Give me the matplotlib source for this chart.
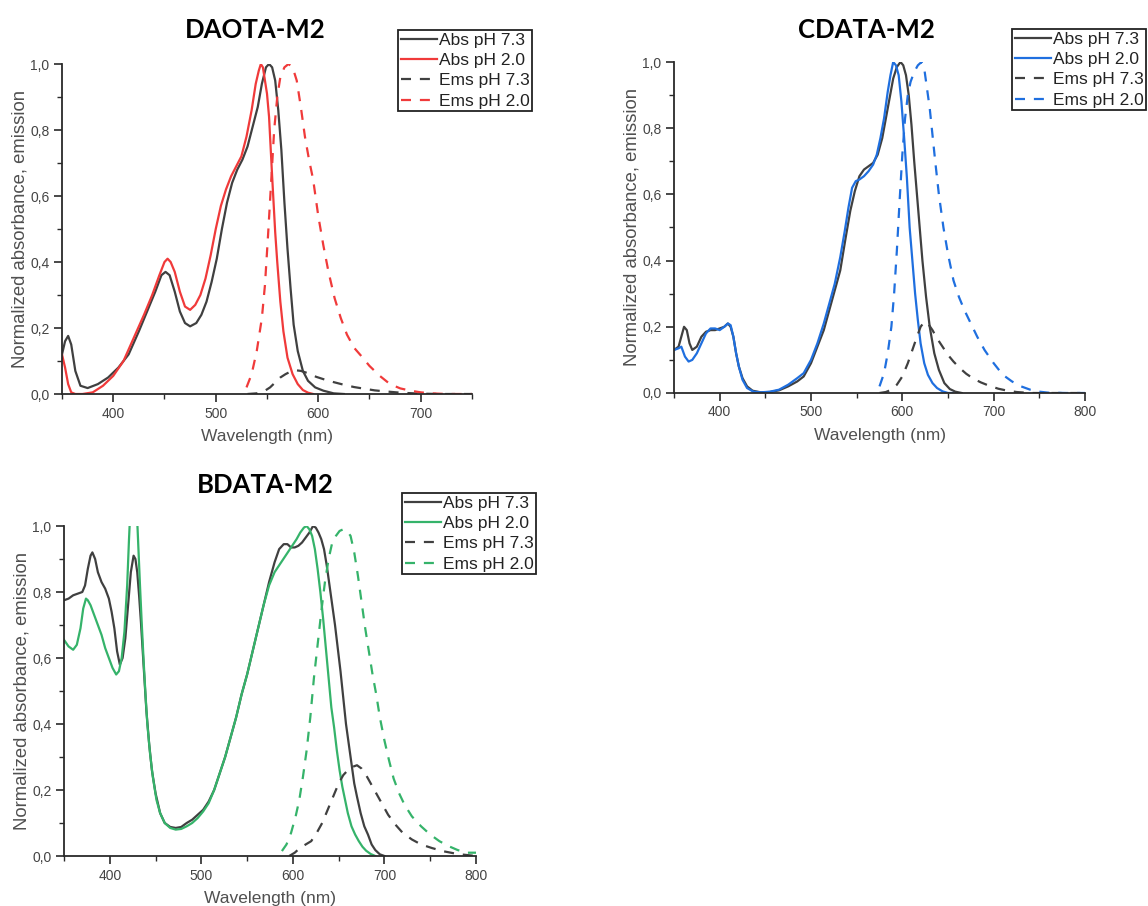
import matplotlib
matplotlib.use("Agg")
import matplotlib.pyplot as plt
from matplotlib.ticker import MultipleLocator, FuncFormatter

plt.rcParams["font.family"] = ["Liberation Sans", "DejaVu Sans"]

# ---------------- DAOTA-M2 ----------------
daota_abs73_x = [350, 353, 356, 359, 363, 368, 375, 385, 395, 405, 415, 425, 433, 441, 447, 451, 455, 460, 465,
                 470, 475, 481, 486, 491, 496, 501, 506, 511, 516, 521, 526, 531, 536, 541, 545, 549, 552, 555,
                 558, 561, 564, 567, 570, 573, 576, 580, 585, 590, 597, 605, 615, 625]
daota_abs73_y = [0.12, 0.16, 0.176, 0.15, 0.07, 0.025, 0.018, 0.03, 0.05, 0.08, 0.12, 0.19, 0.25, 0.31, 0.36,
                 0.37, 0.36, 0.31, 0.25, 0.215, 0.205, 0.215, 0.24, 0.28, 0.34, 0.41, 0.50, 0.58, 0.64, 0.68,
                 0.71, 0.75, 0.81, 0.87, 0.94, 0.99, 1.0, 0.99, 0.95, 0.86, 0.74, 0.58, 0.44, 0.32, 0.21, 0.13,
                 0.07, 0.04, 0.02, 0.01, 0.002, 0.0]

daota_abs20_x = [350, 353, 356, 359, 363, 370, 380, 390, 400, 410, 420, 430, 438, 445, 450, 453, 456, 460, 465,
                 470, 475, 480, 485, 490, 495, 500, 505, 510, 515, 520, 525, 530, 535, 539, 542, 544, 546, 548,
                 550, 552, 555, 558, 560, 563, 566, 570, 575, 580, 585, 590, 595]
daota_abs20_y = [0.12, 0.08, 0.03, 0.005, 0.0, 0.0, 0.005, 0.025, 0.055, 0.10, 0.17, 0.24, 0.30, 0.36, 0.40,
                 0.41, 0.40, 0.37, 0.31, 0.265, 0.255, 0.27, 0.30, 0.35, 0.42, 0.50, 0.57, 0.62, 0.66, 0.69,
                 0.72, 0.78, 0.86, 0.94, 0.98, 1.0, 0.99, 0.95, 0.91, 0.84, 0.66, 0.49, 0.40, 0.28, 0.19, 0.11,
                 0.06, 0.03, 0.012, 0.004, 0.0]

daota_ems73_x = [531, 540, 548, 553, 558, 563, 568, 573, 578, 583, 590, 598, 606, 615, 625, 635, 645, 655, 665,
                 680, 700, 720, 750]
daota_ems73_y = [0.0, 0.002, 0.01, 0.02, 0.035, 0.05, 0.06, 0.068, 0.072, 0.07, 0.063, 0.052, 0.044, 0.036,
                 0.028, 0.021, 0.016, 0.011, 0.008, 0.004, 0.001, 0.0, 0.0]

daota_ems20_x = [530, 535, 540, 545, 548, 551, 554, 557, 560, 563, 567, 571, 575, 579, 583, 587, 591, 595, 600,
                 605, 610, 616, 622, 628, 635, 642, 650, 660, 670, 680, 690, 700, 710, 725, 750]
daota_ems20_y = [0.02, 0.06, 0.13, 0.23, 0.33, 0.48, 0.64, 0.80, 0.90, 0.96, 0.99, 1.0, 0.99, 0.95, 0.87, 0.78,
                 0.71, 0.65, 0.54, 0.45, 0.37, 0.29, 0.23, 0.18, 0.14, 0.115, 0.085, 0.055, 0.03, 0.017, 0.01,
                 0.005, 0.002, 0.0, 0.0]

# ---------------- CDATA-M2 ----------------
cdata_abs73_x = [350, 355, 358, 361, 364, 367, 370, 375, 380, 385, 390, 395, 400, 405, 409, 412, 415, 418, 421,
                 425, 430, 436, 445, 455, 465, 475, 485, 492, 500, 507, 514, 520, 526, 532, 538, 543, 548, 553,
                 558, 563, 568, 573, 578, 582, 586, 590, 594, 598, 601, 604, 607, 610, 613, 616, 619, 622, 626,
                 630, 635, 640, 646, 652, 658, 665]
cdata_abs73_y = [0.13, 0.14, 0.17, 0.20, 0.19, 0.15, 0.13, 0.14, 0.17, 0.185, 0.19, 0.19, 0.195, 0.20, 0.21,
                 0.20, 0.17, 0.12, 0.08, 0.045, 0.02, 0.007, 0.002, 0.003, 0.008, 0.02, 0.035, 0.05, 0.09, 0.14,
                 0.19, 0.25, 0.31, 0.37, 0.47, 0.55, 0.61, 0.655, 0.675, 0.685, 0.695, 0.72, 0.77, 0.83, 0.89,
                 0.95, 0.985, 1.0, 0.99, 0.96, 0.90, 0.81, 0.70, 0.60, 0.50, 0.40, 0.29, 0.20, 0.12, 0.07, 0.03,
                 0.012, 0.004, 0.0]

cdata_abs20_x = [350, 355, 358, 362, 366, 370, 375, 380, 385, 390, 395, 400, 405, 409, 412, 415, 418, 421, 425,
                 430, 437, 445, 455, 465, 475, 485, 492, 500, 507, 514, 520, 526, 532, 537, 541, 545, 549, 553,
                 558, 563, 568, 572, 576, 580, 584, 587, 590, 593, 596, 599, 602, 605, 608, 611, 614, 617, 620,
                 624, 628, 633, 638, 644, 650, 655]
cdata_abs20_y = [0.13, 0.135, 0.14, 0.11, 0.095, 0.10, 0.12, 0.15, 0.18, 0.195, 0.195, 0.19, 0.20, 0.21, 0.205,
                 0.17, 0.12, 0.08, 0.04, 0.015, 0.004, 0.002, 0.004, 0.01, 0.025, 0.045, 0.06, 0.10, 0.15, 0.21,
                 0.27, 0.33, 0.41, 0.49, 0.56, 0.62, 0.64, 0.645, 0.655, 0.67, 0.69, 0.72, 0.77, 0.83, 0.91, 0.96,
                 1.0, 0.99, 0.96, 0.88, 0.77, 0.65, 0.50, 0.40, 0.30, 0.22, 0.15, 0.09, 0.055, 0.03, 0.015,
                 0.005, 0.0, 0.0]

cdata_ems73_x = [575, 582, 588, 594, 600, 606, 611, 616, 620, 624, 628, 633, 638, 644, 650, 656, 663, 670, 678,
                 686, 695, 705, 715, 725, 740, 760, 800]
cdata_ems73_y = [0.0, 0.003, 0.01, 0.025, 0.05, 0.09, 0.13, 0.17, 0.20, 0.215, 0.21, 0.19, 0.165, 0.14, 0.115,
                 0.095, 0.075, 0.058, 0.043, 0.032, 0.022, 0.013, 0.007, 0.003, 0.0, 0.0, 0.0]

cdata_ems20_x = [575, 580, 584, 588, 591, 594, 597, 600, 603, 606, 609, 613, 617, 621, 624, 627, 630, 633, 636,
                 640, 645, 650, 656, 662, 668, 675, 682, 690, 700, 710, 720, 730, 740, 750, 760, 780, 800]
cdata_ems20_y = [0.02, 0.06, 0.12, 0.20, 0.30, 0.43, 0.58, 0.72, 0.83, 0.90, 0.94, 0.97, 0.99, 1.0, 0.98, 0.92,
                 0.86, 0.78, 0.70, 0.60, 0.50, 0.42, 0.34, 0.29, 0.25, 0.21, 0.17, 0.13, 0.09, 0.055, 0.035,
                 0.02, 0.01, 0.004, 0.001, 0.0, 0.0]

# ---------------- BDATA-M2 ----------------
bdata_abs73_x = [350, 355, 360, 365, 370, 373, 376, 379, 381, 384, 387, 391, 395, 399, 402, 405, 408, 411, 414,
                 417, 420, 423, 426, 428, 430, 432, 434, 436, 438, 440, 443, 446, 450, 455, 460, 466, 472, 478,
                 484, 490, 496, 502, 508, 514, 520, 526, 532, 538, 544, 550, 556, 562, 568, 574, 580, 585, 590,
                 594, 598, 602, 606, 610, 614, 618, 622, 625, 628, 631, 634, 637, 640, 643, 646, 649, 652, 655,
                 658, 661, 664, 667, 670, 674, 678, 682, 686, 690, 695, 700]
bdata_abs73_y = [0.775, 0.78, 0.79, 0.795, 0.80, 0.82, 0.87, 0.91, 0.92, 0.90, 0.86, 0.83, 0.81, 0.78, 0.74,
                 0.69, 0.62, 0.58, 0.60, 0.66, 0.76, 0.86, 0.91, 0.90, 0.86, 0.79, 0.71, 0.62, 0.53, 0.44, 0.34,
                 0.26, 0.19, 0.13, 0.10, 0.088, 0.085, 0.088, 0.10, 0.11, 0.125, 0.14, 0.165, 0.20, 0.25, 0.30,
                 0.36, 0.42, 0.49, 0.55, 0.62, 0.69, 0.76, 0.83, 0.89, 0.93, 0.945, 0.945, 0.935, 0.935, 0.94,
                 0.95, 0.965, 0.98, 1.0, 0.995, 0.98, 0.96, 0.93, 0.88, 0.82, 0.76, 0.70, 0.63, 0.56, 0.48, 0.40,
                 0.34, 0.28, 0.22, 0.18, 0.13, 0.09, 0.065, 0.035, 0.018, 0.005, 0.0]

bdata_abs20_x = [350, 355, 360, 364, 368, 371, 374, 376, 379, 383, 387, 391, 395, 399, 403, 407, 410, 413, 416,
                 419, 421, 423, 425, 427, 429, 431, 433, 435, 437, 439, 441, 444, 447, 451, 455, 460, 466, 472,
                 478, 484, 490, 496, 502, 508, 514, 520, 526, 532, 538, 544, 550, 556, 562, 568, 574, 580, 586,
                 592, 598, 604, 608, 612, 615, 618, 621, 624, 627, 630, 633, 636, 639, 642, 645, 648, 651, 654,
                 657, 660, 664, 668, 672, 676, 680, 685, 690]
bdata_abs20_y = [0.655, 0.635, 0.625, 0.64, 0.69, 0.75, 0.78, 0.775, 0.76, 0.73, 0.70, 0.67, 0.63, 0.60, 0.57,
                 0.55, 0.56, 0.60, 0.68, 0.82, 0.96, 1.08, 1.15, 1.15, 1.08, 0.95, 0.82, 0.70, 0.59, 0.49, 0.40,
                 0.31, 0.24, 0.17, 0.13, 0.10, 0.085, 0.08, 0.082, 0.09, 0.10, 0.115, 0.135, 0.16, 0.20, 0.25,
                 0.30, 0.36, 0.42, 0.49, 0.55, 0.62, 0.69, 0.76, 0.82, 0.86, 0.885, 0.91, 0.935, 0.96, 0.98,
                 0.995, 1.0, 0.99, 0.97, 0.93, 0.87, 0.80, 0.72, 0.63, 0.54, 0.45, 0.39, 0.32, 0.26, 0.21, 0.17,
                 0.13, 0.09, 0.065, 0.045, 0.028, 0.016, 0.006, 0.0]

bdata_ems73_x = [596, 602, 608, 614, 620, 626, 632, 638, 644, 650, 655, 660, 665, 670, 675, 680, 686, 692, 698,
                 704, 712, 720, 730, 740, 752, 765, 780, 800]
bdata_ems73_y = [0.0, 0.01, 0.025, 0.035, 0.045, 0.07, 0.10, 0.14, 0.18, 0.22, 0.245, 0.26, 0.27, 0.275, 0.265,
                 0.245, 0.215, 0.185, 0.155, 0.125, 0.095, 0.07, 0.05, 0.035, 0.024, 0.014, 0.006, 0.0]

bdata_ems20_x = [588, 593, 598, 603, 607, 611, 615, 619, 623, 627, 631, 635, 639, 643, 647, 651, 655, 659, 663,
                 667, 671, 675, 679, 683, 687, 691, 695, 700, 705, 710, 716, 722, 730, 740, 750, 760, 770, 780,
                 790, 800]
bdata_ems20_y = [0.015, 0.035, 0.07, 0.12, 0.17, 0.24, 0.32, 0.42, 0.54, 0.64, 0.74, 0.83, 0.90, 0.95, 0.97,
                 0.985, 0.99, 0.985, 0.97, 0.92, 0.85, 0.77, 0.69, 0.62, 0.55, 0.49, 0.42, 0.35, 0.29, 0.235,
                 0.19, 0.155, 0.12, 0.09, 0.065, 0.045, 0.03, 0.018, 0.01, 0.01]

legend_labels = ["Abs pH 7.3", "Abs pH 2.0", "Ems pH 7.3", "Ems pH 2.0"]

GRAY = "#404040"
W, H = 1148, 906

fig = plt.figure(figsize=(W / 100, H / 100), dpi=100)


def px_axes(x0, x1, y_top, y_bot):
    return fig.add_axes([x0 / W, 1 - y_bot / H, (x1 - x0) / W, (y_bot - y_top) / H])


def panel(ax, data, color, xmax, title, title_xy, leg_xy):
    (ax73, ay73), (ax20, ay20), (ex73, ey73), (ex20, ey20) = data
    lw = 1.6
    h1, = ax.plot(ax73, ay73, color=GRAY, lw=lw)
    h2, = ax.plot(ax20, ay20, color=color, lw=lw)
    h3, = ax.plot(ex73, ey73, color=GRAY, lw=lw, ls=(0, (4.5, 4)))
    h4, = ax.plot(ex20, ey20, color=color, lw=lw, ls=(0, (4.5, 4)))

    ax.set_xlim(350, xmax)
    ax.set_ylim(0, 1.0)
    for s in ["top", "right"]:
        ax.spines[s].set_visible(False)
    for s in ["left", "bottom"]:
        ax.spines[s].set_color("#2a2a2a")
        ax.spines[s].set_linewidth(1.3)
    ax.xaxis.set_major_locator(MultipleLocator(100))
    ax.xaxis.set_minor_locator(MultipleLocator(50))
    ax.yaxis.set_major_locator(MultipleLocator(0.2))
    ax.yaxis.set_minor_locator(MultipleLocator(0.1))
    ax.yaxis.set_major_formatter(FuncFormatter(lambda v, p: f"{v:.1f}".replace(".", ",")))
    ax.tick_params(which="major", length=6, width=1.2, color="#2a2a2a",
                   labelsize=10, labelcolor="#444444", pad=3)
    ax.tick_params(which="minor", length=3.5, width=1.0, color="#2a2a2a")
    ax.set_xlabel("Wavelength (nm)", fontsize=12.5, color="#505050", labelpad=6)
    ax.set_ylabel("Normalized absorbance, emission", fontsize=13.3, color="#505050", labelpad=1)
    ax.patch.set_alpha(0)

    fig.text(title_xy[0] / W, 1 - title_xy[1] / H, title, fontsize=18.5, fontweight="bold",
             family="Lato", ha="center", va="center", color="black")

    leg = ax.legend([h1, h2, h3, h4], legend_labels, loc="upper left",
                    bbox_to_anchor=(leg_xy[0] / W, 1 - leg_xy[1] / H), bbox_transform=fig.transFigure,
                    borderaxespad=0, fontsize=12.5, frameon=True, fancybox=False, handlelength=2.1,
                    handletextpad=0.1, labelspacing=0.3, borderpad=0.15, framealpha=1)
    leg.get_frame().set_edgecolor("#222222")
    leg.get_frame().set_linewidth(1.3)
    for t in leg.get_texts():
        t.set_color("#222222")


ax1 = px_axes(62, 472, 64, 394)
panel(ax1,
      [(daota_abs73_x, daota_abs73_y), (daota_abs20_x, daota_abs20_y),
       (daota_ems73_x, daota_ems73_y), (daota_ems20_x, daota_ems20_y)],
      "#f03a3a", 750, "DAOTA-M2", (255, 30), (398, 30))

ax2 = px_axes(674, 1085, 62, 393)
panel(ax2,
      [(cdata_abs73_x, cdata_abs73_y), (cdata_abs20_x, cdata_abs20_y),
       (cdata_ems73_x, cdata_ems73_y), (cdata_ems20_x, cdata_ems20_y)],
      "#1f6fdf", 800, "CDATA-M2", (866, 30), (1012, 29))

ax3 = px_axes(64, 476, 526, 856)
panel(ax3,
      [(bdata_abs73_x, bdata_abs73_y), (bdata_abs20_x, bdata_abs20_y),
       (bdata_ems73_x, bdata_ems73_y), (bdata_ems20_x, bdata_ems20_y)],
      "#35b36a", 800, "BDATA-M2", (265, 485), (402, 493))

fig.savefig("out.png", dpi=100)
